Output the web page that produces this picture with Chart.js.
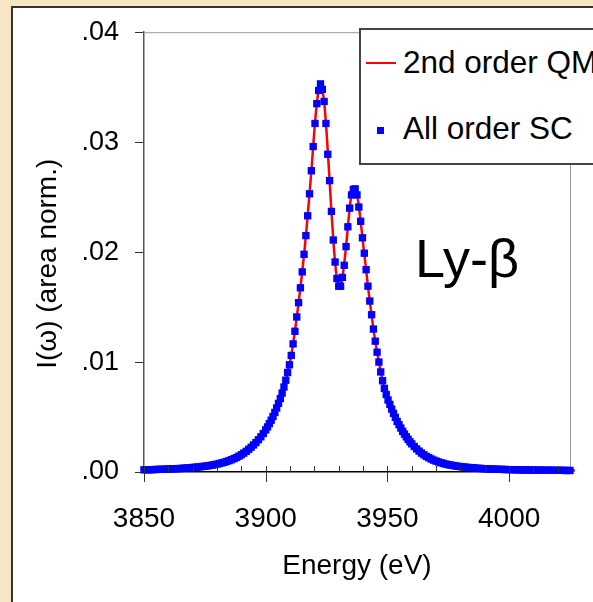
<!DOCTYPE html>
<html>
<head>
<meta charset="utf-8">
<script src="https://cdn.jsdelivr.net/npm/chart.js@4.4.0/dist/chart.umd.min.js"></script>
<style>
  html, body { margin: 0; padding: 0; width: 593px; height: 602px; overflow: hidden; }
  body { background: #f6e6c6; font-family: "Liberation Sans", Arial, sans-serif; position: relative; }
  #panel { position: absolute; left: 11px; top: 6px; width: 700px; height: 700px; background: #fff; border: 2px solid #333; }
  #wrap { position: absolute; left: 0; top: 0; width: 593px; height: 602px; }
  #legend { position: absolute; left: 359px; top: 28px; width: 400px; height: 133px; background: #fff; border: 2px solid #444; }
  #legend .txt { position: absolute; left: 42px; font-size: 31.5px; line-height: 31.5px; white-space: nowrap; color: #000; }
  #legend .ln { position: absolute; left: 5px; top: 32px; width: 30px; height: 2px; background: #ff0000; }
  #legend .sq { position: absolute; left: 16px; top: 97px; width: 7px; height: 7px; background: #0000ff; }
  #lyb { position: absolute; left: 415px; top: 231px; font-size: 54px; line-height: 54px; color: #000; white-space: nowrap; }
</style>
</head>
<body>
<div id="panel"></div>
<div id="wrap"><canvas id="lineChart"></canvas></div>
<div id="legend">
  <div class="ln"></div><div class="txt" style="top:17px">2nd order QM</div>
  <div class="sq"></div><div class="txt" style="top:83px">All order SC</div>
</div>
<div id="lyb">Ly-β</div>

<script>
/* ============================================
   DATA
   ============================================ */

// 2nd order QM (red line)
const qmEnergy = [
    3850, 3852, 3854, 3856, 3858, 3860, 3862, 3864, 3866, 3868, 3870, 3872,
    3874, 3876, 3878, 3880, 3882, 3884, 3886, 3888, 3890, 3892, 3894, 3896,
    3897, 3898, 3899, 3900, 3901, 3902, 3903, 3904, 3905, 3906, 3907, 3908,
    3909, 3910, 3911, 3912, 3913, 3914, 3915, 3916, 3917, 3918, 3919, 3920,
    3921, 3922, 3922.5, 3923, 3924, 3925, 3926, 3927, 3928, 3929, 3930, 3931,
    3932, 3933, 3934, 3935, 3936, 3937, 3938, 3939, 3940, 3941, 3942, 3943,
    3944, 3945, 3946, 3947, 3948, 3949, 3950, 3951, 3952, 3953, 3954, 3955,
    3956, 3957, 3958, 3959, 3960, 3962, 3964, 3966, 3968, 3970, 3972, 3974,
    3976, 3978, 3980, 3982, 3984, 3986, 3988, 3990, 3992, 3994, 3996, 3998,
    4000, 4002, 4004, 4006, 4008, 4010, 4012, 4014, 4016, 4018, 4020, 4022, 4024, 4027
];
const qmValues = [
    0.00020, 0.00021, 0.00022, 0.00024, 0.00025, 0.00027, 0.00029, 0.00031, 0.00034, 0.00037, 0.00041, 0.00045,
    0.00050, 0.00056, 0.00063, 0.00072, 0.00083, 0.00096, 0.00112, 0.00132, 0.00157, 0.00188, 0.00225, 0.00268,
    0.00293, 0.00320, 0.00350, 0.00383, 0.00420, 0.00460, 0.00505, 0.00555, 0.00610, 0.00668, 0.00735, 0.00815,
    0.00905, 0.01000, 0.01130, 0.01280, 0.01450, 0.01630, 0.01820, 0.02030, 0.02270, 0.02530, 0.02810, 0.03110,
    0.03350, 0.03500, 0.03530, 0.03500, 0.03370, 0.03090, 0.02740, 0.02370, 0.02040, 0.01800, 0.01690, 0.01710,
    0.01850, 0.02050, 0.02290, 0.02490, 0.02570, 0.02560, 0.02460, 0.02280, 0.02080, 0.01890, 0.01690, 0.01510,
    0.01340, 0.01190, 0.01060, 0.00940, 0.00830, 0.00740, 0.00670, 0.00615, 0.00560, 0.00510, 0.00460, 0.00420,
    0.00380, 0.00345, 0.00312, 0.00283, 0.00256, 0.00210, 0.00172, 0.00142, 0.00118, 0.00099, 0.00084, 0.00072,
    0.00063, 0.00055, 0.00049, 0.00044, 0.00040, 0.00036, 0.00033, 0.00030, 0.00028, 0.00026, 0.00024, 0.00023,
    0.00022, 0.00021, 0.00020, 0.00019, 0.00018, 0.00018, 0.00017, 0.00016, 0.00016, 0.00015, 0.00015, 0.00015, 0.00014, 0.00014
];

// All order SC (blue squares)
const scEnergy = [
    3850, 3851, 3852, 3853, 3854, 3855, 3856, 3857, 3858, 3859, 3860, 3861,
    3862, 3863, 3864, 3865, 3866, 3867, 3868, 3869, 3870, 3871, 3872, 3873,
    3874, 3875, 3876, 3877, 3878, 3879, 3880, 3881, 3882, 3883, 3884, 3885,
    3886, 3887, 3888, 3889, 3890, 3891, 3892, 3893, 3894, 3895, 3896, 3897,
    3898, 3899,
    3900, 3900.75, 3901.5, 3902.25, 3903, 3903.75, 3904.5, 3905.25, 3906, 3906.75, 3907.5, 3908.25,
    3909, 3909.75, 3910.5, 3911.25, 3912, 3912.75, 3913.5, 3914.25, 3915, 3915.75, 3916.5, 3917.25,
    3918, 3918.75, 3919.5, 3920.25, 3921, 3921.75, 3922.5, 3923.25, 3924, 3924.75, 3925.5, 3926.25,
    3927, 3927.75, 3928.5, 3929.25, 3930, 3930.75, 3931.5, 3932.25, 3933, 3933.75, 3934.5, 3935.25,
    3936, 3936.75, 3937.5, 3938.25, 3939, 3939.75, 3940.5, 3941.25, 3942, 3942.75, 3943.5, 3944.25,
    3945, 3945.75, 3946.5, 3947.25, 3948, 3948.75, 3949.5, 3950.25, 3951, 3951.75, 3952.5, 3953.25,
    3954, 3954.75, 3955.5, 3956.25, 3957, 3957.75, 3958.5, 3959.25, 3960,
    3961, 3962, 3963, 3964, 3965, 3966, 3967, 3968, 3969, 3970, 3971, 3972,
    3973, 3974, 3975, 3976, 3977, 3978, 3979, 3980, 3981, 3982, 3983, 3984,
    3985, 3986, 3987, 3988, 3989, 3990, 3991, 3992, 3993, 3994, 3995, 3996,
    3997, 3998, 3999, 4000, 4001, 4002, 4003, 4004, 4005, 4006, 4007, 4008,
    4009, 4010, 4011, 4012, 4013, 4014, 4015, 4016, 4017, 4018, 4019, 4020,
    4021, 4022, 4023, 4024, 4025
];
const scValues = [
    0.00020, 0.00020, 0.00021, 0.00021, 0.00022, 0.00023, 0.00024, 0.00024, 0.00025, 0.00026, 0.00027, 0.00028,
    0.00029, 0.00030, 0.00031, 0.00032, 0.00034, 0.00035, 0.00037, 0.00039, 0.00041, 0.00043, 0.00045, 0.00047,
    0.00050, 0.00053, 0.00056, 0.00059, 0.00063, 0.00067, 0.00072, 0.00077, 0.00083, 0.00089, 0.00096, 0.00104,
    0.00112, 0.00122, 0.00132, 0.00144, 0.00157, 0.00172, 0.00188, 0.00206, 0.00225, 0.00246, 0.00268, 0.00293,
    0.00320, 0.00350,
    0.00383, 0.00410, 0.00440, 0.00471, 0.00505, 0.00542, 0.00582, 0.00624, 0.00668, 0.00718, 0.00773, 0.00835,
    0.00905, 0.00975, 0.01060, 0.01165, 0.01280, 0.01410, 0.01540, 0.01675, 0.01820, 0.01980, 0.02150, 0.02330,
    0.02530, 0.02740, 0.02960, 0.03170, 0.03350, 0.03470, 0.03530, 0.03480, 0.03370, 0.03170, 0.02890, 0.02650,
    0.02370, 0.02110, 0.01910, 0.01760, 0.01690, 0.01690, 0.01770, 0.01880, 0.02050, 0.02230, 0.02400, 0.02520,
    0.02570, 0.02575, 0.02520, 0.02410, 0.02280, 0.02130, 0.01990, 0.01840, 0.01690, 0.01555, 0.01430, 0.01300,
    0.01190, 0.01090, 0.01000, 0.00910, 0.00830, 0.00760, 0.00705, 0.00655, 0.00615, 0.00572, 0.00533, 0.00497,
    0.00460, 0.00430, 0.00400, 0.00370, 0.00345, 0.00320, 0.00297, 0.00275, 0.00256,
    0.00232, 0.00210, 0.00190, 0.00172, 0.00156, 0.00142, 0.00130, 0.00118, 0.00108, 0.00099, 0.00091, 0.00084,
    0.00078, 0.00072, 0.00067, 0.00063, 0.00059, 0.00055, 0.00052, 0.00049, 0.00046, 0.00044, 0.00042, 0.00040,
    0.00038, 0.00036, 0.00034, 0.00033, 0.00031, 0.00030, 0.00029, 0.00028, 0.00027, 0.00026, 0.00025, 0.00024,
    0.00024, 0.00023, 0.00022, 0.00022, 0.00021, 0.00021, 0.00020, 0.00020, 0.00019, 0.00019, 0.00019, 0.00018,
    0.00018, 0.00018, 0.00017, 0.00017, 0.00017, 0.00016, 0.00016, 0.00016, 0.00016, 0.00015, 0.00015, 0.00015,
    0.00015, 0.00015, 0.00014, 0.00014, 0.00014
];

const xMajorTicks = [3850, 3900, 3950, 4000];
const xMinorTicks = [3860, 3870, 3880, 3890, 3910, 3920, 3930, 3940, 3960, 3970, 3980, 3990, 4010, 4020];
const yTicks = [0, 0.01, 0.02, 0.03, 0.04];
const yTickLabels = [".00", ".01", ".02", ".03", ".04"];


/* ============================================
   PLUGIN: plot frame + x tick marks
   ============================================ */

const frameAndTicks = {
    id: "frameAndTicks",
    beforeDatasetsDraw(chart) {
        const { ctx, chartArea: a } = chart;
        ctx.save();
        ctx.strokeStyle = "#9a9a9a";
        ctx.lineWidth = 1;
        ctx.beginPath();
        ctx.moveTo(a.left, a.top + 0.5);
        ctx.lineTo(a.right + 0.5, a.top + 0.5);
        ctx.lineTo(a.right + 0.5, a.bottom);
        ctx.stroke();
        ctx.restore();
    },
    afterDraw(chart) {
        const { ctx, chartArea: a, scales: { x } } = chart;
        ctx.save();
        ctx.strokeStyle = "#333";
        ctx.lineWidth = 1;
        ctx.beginPath();
        xMinorTicks.forEach(v => {
            const px = Math.round(x.getPixelForValue(v)) + 0.5;
            ctx.moveTo(px, a.bottom - 6);
            ctx.lineTo(px, a.bottom);
        });
        xMajorTicks.forEach(v => {
            const px = Math.round(x.getPixelForValue(v)) + 0.5;
            ctx.moveTo(px, a.bottom - 6);
            ctx.lineTo(px, a.bottom + 10);
        });
        ctx.stroke();
        ctx.restore();
    }
};


/* ============================================
   CHART
   ============================================ */

document.addEventListener("DOMContentLoaded", function () {

    Chart.defaults.font.family = '"Liberation Sans", Arial, sans-serif';
    Chart.defaults.color = "#000";

    const ctx = document.getElementById("lineChart");

    new Chart(ctx, {
        type: "line",
        data: {
            datasets: [{
                label: "All order SC",
                data: scEnergy.map((e, i) => ({ x: e, y: scValues[i] })),
                showLine: false,
                pointStyle: "rect",
                pointRadius: 5.2,
                pointBorderWidth: 0,
                pointBackgroundColor: "#0000ff",
                clip: false
            }, {
                label: "2nd order QM",
                data: qmEnergy.map((e, i) => ({ x: e, y: qmValues[i] })),
                borderColor: "#ff0000",
                borderWidth: 2.5,
                pointRadius: 0,
                cubicInterpolationMode: "monotone",
                clip: false
            }]
        },
        options: {
            responsive: true,
            maintainAspectRatio: false,
            animation: false,
            layout: { padding: { top: 30, right: 23, left: 0, bottom: 0 } },
            plugins: {
                legend: { display: false },
                tooltip: { enabled: false }
            },
            scales: {
                x: {
                    type: "linear",
                    min: 3850,
                    max: 4025,
                    afterBuildTicks: s => { s.ticks = xMajorTicks.map(v => ({ value: v })); },
                    afterFit: s => { s.height = 130; },
                    grid: { drawOnChartArea: false, drawTicks: false },
                    border: { color: "#000", width: 1.5 },
                    ticks: { padding: 30, font: { size: 28 }, callback: v => String(v) },
                    title: {
                        display: true,
                        text: "Energy (eV)",
                        font: { size: 28 },
                        padding: { top: 0, bottom: 19 }
                    }
                },
                y: {
                    min: 0,
                    max: 0.04,
                    afterBuildTicks: s => { s.ticks = yTicks.map(v => ({ value: v })); },
                    afterFit: s => { s.width = 144; },
                    grid: { drawOnChartArea: false, tickLength: 9, tickColor: "#333" },
                    border: { color: "#555", width: 1.5 },
                    ticks: { padding: 16, font: { size: 27 }, callback: (v, i) => yTickLabels[i] },
                    title: {
                        display: true,
                        text: "I(ω) (area norm.)\u00a0\u00a0\u00a0",
                        font: { size: 28 },
                        padding: { top: 31, bottom: 0 }
                    }
                }
            }
        },
        plugins: [frameAndTicks]
    });
});
</script>
</body>
</html>
